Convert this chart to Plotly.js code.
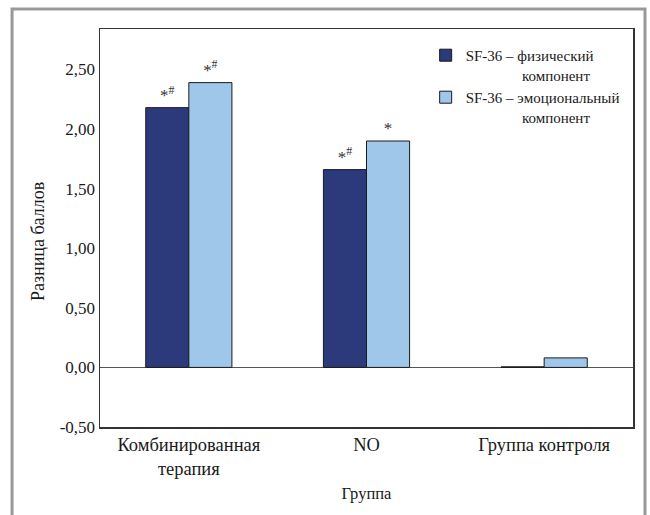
<!DOCTYPE html>
<html>
<head>
<meta charset="utf-8">
<script src="https://cdn.plot.ly/plotly-3.0.1.min.js"></script>
<style>
html,body{margin:0;padding:0;background:#fff;}
#chart{width:650px;height:515px;}
</style>
</head>
<body>
<div id="chart"></div>
<script>
var categories = ['Комбинированная<br>терапия', 'NO', 'Группа контроля'];
var physical = [2.18, 1.66, 0.005];
var emotional = [2.39, 1.90, 0.08];
var markPhysical = ['*<sup>#</sup>', '*<sup>#</sup>', ''];
var markEmotional = ['*<sup>#</sup>', '*', ''];
var seriesNames = ['SF-36 – физический<br>' + '\u00a0'.repeat(15) + 'компонент',
                   'SF-36 – эмоциональный<br>' + '\u00a0'.repeat(15) + 'компонент'];
var yTickVals = [-0.5, 0, 0.5, 1, 1.5, 2, 2.5];
var yTickText = ['-0,50', '0,00', '0,50', '1,00', '1,50', '2,00', '2,50'];
var yTitle = 'Разница баллов';
var xTitle = 'Группа';

var FONT = "'Liberation Serif', 'Times New Roman', serif";

var traces = [
  {type: 'bar', x: categories, y: physical, name: seriesNames[0],
   marker: {color: '#2c3a7c', line: {color: '#1a1a1a', width: 1}},
   text: markPhysical, textposition: 'outside', cliponaxis: false,
   textfont: {family: FONT, size: 17, color: '#333'}, hoverinfo: 'y'},
  {type: 'bar', x: categories, y: emotional, name: seriesNames[1],
   marker: {color: '#9fc7ea', line: {color: '#1a1a1a', width: 1}},
   text: markEmotional, textposition: 'outside', cliponaxis: false,
   textfont: {family: FONT, size: 17, color: '#333'}, hoverinfo: 'y'}
];

var layout = {
  width: 650, height: 515,
  margin: {l: 100, r: 17, t: 29, b: 88},
  paper_bgcolor: '#fff', plot_bgcolor: '#fff',
  font: {family: FONT, size: 16, color: '#1a1a1a'},
  barmode: 'group', bargap: 0.515, bargroupgap: 0,
  showlegend: true,
  legend: {x: 0.611, y: 0.975, xanchor: 'left', yanchor: 'top', valign: 'top',
           font: {family: FONT, size: 15, color: '#1a1a1a'},
           bgcolor: 'rgba(0,0,0,0)', itemwidth: 30, tracegroupgap: 0},
  xaxis: {
    title: {text: xTitle, font: {family: FONT, size: 16.5}, standoff: 9},
    showline: true, mirror: true, linecolor: '#333', linewidth: 1.5,
    ticks: '', tickfont: {family: FONT, size: 18.5}, showgrid: false
  },
  yaxis: {
    range: [-0.5, 2.84], tickvals: yTickVals, ticktext: yTickText,
    showline: true, mirror: true, linecolor: '#333', linewidth: 1.5,
    ticks: '', tickfont: {family: FONT, size: 17}, showgrid: false,
    zeroline: true, zerolinecolor: '#555', zerolinewidth: 1.5
  },
  annotations: [{text: yTitle, textangle: -90, xref: 'paper', yref: 'paper',
                 x: -0.116, y: 0.465, xanchor: 'center', yanchor: 'middle',
                 showarrow: false, font: {family: FONT, size: 18, color: '#1a1a1a'}}],
  shapes: [{type: 'rect', xref: 'paper', yref: 'paper',
            x0: -0.165, x1: 1.0225, y0: -0.25, y1: 1.05,
            line: {color: '#999', width: 3}, layer: 'below'}]
};

Plotly.newPlot('chart', traces, layout, {displayModeBar: false, staticPlot: true});
</script>
</body>
</html>
